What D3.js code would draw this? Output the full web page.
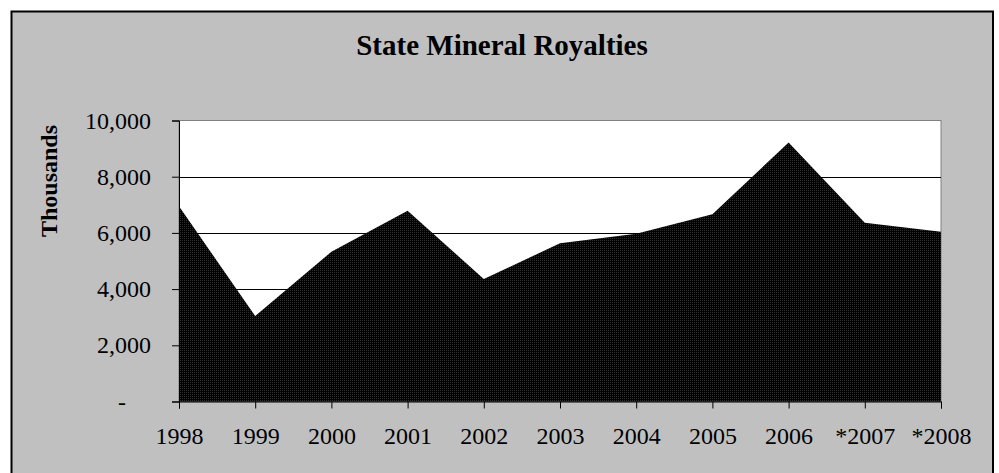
<!DOCTYPE html>
<html>
<head>
<meta charset="utf-8">
<script src="https://cdn.jsdelivr.net/npm/d3@7"></script>
<style>
html,body{margin:0;padding:0;background:#fff;}
svg{display:block;}
text{font-family:"Liberation Serif","Times New Roman",serif;fill:#000;}
</style>
</head>
<body>
<svg id="chart" width="999" height="473"></svg>
<script>
const categories = ["1998","1999","2000","2001","2002","2003","2004","2005","2006","*2007","*2008"];
const royalties = [6950, 3040, 5330, 6790, 4360, 5630, 5970, 6660, 9220, 6360, 6040];
const yTicks = [0, 2000, 4000, 6000, 8000, 10000];
const titleText = "State Mineral Royalties";
const yTitle = "Thousands";

const svg = d3.select("#chart");
const plot = {left: 179, right: 941, top: 120.5, bottom: 401.5};

// pattern for fill
const defs = svg.append("defs");
const pat = defs.append("pattern").attr("id","dots").attr("width",2).attr("height",2)
  .attr("patternUnits","userSpaceOnUse");
pat.append("rect").attr("width",2).attr("height",2).attr("fill","#000");
pat.append("rect").attr("x",0).attr("y",0).attr("width",1).attr("height",1).attr("fill","#2e2e2e");

// outer background with border
svg.append("rect").attr("x",11.5).attr("y",11.5).attr("width",981.5).attr("height",475)
  .attr("fill","#c0c0c0").attr("stroke","#000").attr("stroke-width",2);

const x = d3.scalePoint().domain(categories).range([plot.left, plot.right]).padding(0);
const y = d3.scaleLinear().domain([0, 10000]).range([plot.bottom, plot.top]);

// plot area
svg.append("rect").attr("x",plot.left).attr("y",plot.top)
  .attr("width",plot.right-plot.left).attr("height",plot.bottom-plot.top)
  .attr("fill","#fff").attr("stroke","#808080").attr("stroke-width",1);

// gridlines
svg.append("g").selectAll("line").data(yTicks.filter(d=>d>0 && d<10000)).join("line")
  .attr("x1",plot.left).attr("x2",plot.right)
  .attr("y1",d=>Math.round(y(d))+0.5).attr("y2",d=>Math.round(y(d))+0.5)
  .attr("stroke","#000").attr("stroke-width",1);

// area
const area = d3.area()
  .x((d,i)=>x(categories[i]))
  .y0(y(0))
  .y1(d=>y(d));
svg.append("path").datum(royalties).attr("d",area).attr("fill","url(#dots)");

const fontFam = '"Liberation Serif","Times New Roman",serif';

// y axis
const fmt = d => d === 0 ? "-" : d3.format(",")(d);
const yAxis = d3.axisLeft(y).tickValues(yTicks).tickSize(7).tickPadding(21).tickFormat(fmt);
const gy = svg.append("g").attr("transform",`translate(${plot.left},0)`).call(yAxis);
gy.select(".domain").attr("stroke","#000");
gy.selectAll(".tick line").attr("stroke","#000");
gy.selectAll("text").style("font-size","24px").style("font-family",fontFam).attr("fill","#000");
gy.selectAll(".tick").filter(d=>d===0).select("text").attr("x",-53);

// x axis
const xAxis = d3.axisBottom(x).tickSize(7).tickPadding(18);
const gx = svg.append("g").attr("transform",`translate(0,${plot.bottom})`).call(xAxis);
gx.select(".domain").attr("stroke","#000");
gx.selectAll(".tick line").attr("stroke","#000");
gx.selectAll("text").style("font-size","24px").style("font-family",fontFam).attr("fill","#000");

// title
svg.append("text").attr("x",502).attr("y",55).attr("text-anchor","middle")
  .style("font-size","29px").style("font-weight","bold").text(titleText);

// y title
svg.append("text").attr("transform","translate(57,181) rotate(-90)").attr("text-anchor","middle")
  .style("font-size","24px").style("font-weight","bold").text(yTitle);
</script>
</body>
</html>
